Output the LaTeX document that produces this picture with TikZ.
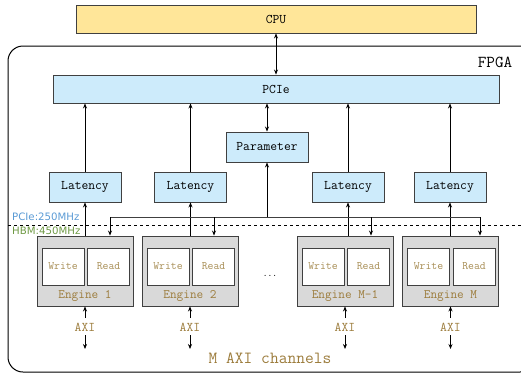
\documentclass[tikz,border=0pt]{standalone}
\usepackage{fontspec}
\newfontfamily\labsans{DejaVu Sans}
\usetikzlibrary{arrows.meta}
\definecolor{edge}{HTML}{404040}
\definecolor{cpufill}{HTML}{FFE699}
\definecolor{bluefill}{HTML}{CDEBFB}
\definecolor{grayfill}{HTML}{D9D9D9}
\definecolor{gold}{HTML}{9C7C3C}
\definecolor{lgold}{HTML}{A88E55}
\definecolor{pcieblue}{HTML}{5B9BD5}
\definecolor{hbmgreen}{HTML}{6F9A45}
\tikzset{
  box/.style={draw=edge, line width=0.9pt, inner sep=0pt, font=\ttfamily\fontsize{13.2}{15}\selectfont},
  cpubox/.style={box, fill=cpufill},
  bluebox/.style={box, fill=bluefill},
  enginebox/.style={draw=edge, line width=0.9pt, fill=grayfill, minimum width=96pt, minimum height=70pt, inner sep=0pt},
  wrbox/.style={draw=edge, line width=0.9pt, fill=white, minimum width=42pt, minimum height=37pt, inner sep=0pt, text=lgold, font=\ttfamily\fontsize{11.4}{13}\selectfont},
  englabel/.style={text=gold, inner sep=0pt, font=\ttfamily\fontsize{12.9}{15}\selectfont},
  axilabel/.style={text=gold, inner sep=0pt, font=\ttfamily\fontsize{13.3}{15}\selectfont},
  arr/.style={-{Stealth[length=5pt,width=4pt]}, line width=0.7pt, black},
  darr/.style={{Stealth[length=5pt,width=4pt]}-{Stealth[length=5pt,width=4pt]}, line width=0.7pt, black},
  bus/.style={line width=0.9pt, edge},
}
\begin{document}
\begin{tikzpicture}[x=1pt,y=-1pt]
\useasboundingbox (0,0) rectangle (521,375);
\clip (0,0) rectangle (521,375);
% FPGA region
\draw[line width=1pt, rounded corners=15pt] (8,46) rectangle (535,372);
\node[inner sep=0pt, font=\ttfamily\fontsize{16.7}{18}\selectfont] (fpga) at (495,62) {FPGA};
% boxes
\node[cpubox, minimum width=400pt, minimum height=28pt] (cpu) at (276,19) {CPU};
\node[bluebox, minimum width=446pt, minimum height=28pt] (pcie) at (276,89) {PCIe};
\node[bluebox, minimum width=82pt, minimum height=30pt] (param) at (267,147) {Parameter};
\node[bluebox, minimum width=72pt, minimum height=30pt] (lat1) at (85,187) {Latency};
\node[bluebox, minimum width=72pt, minimum height=30pt] (lat2) at (190.5,187) {Latency};
\node[bluebox, minimum width=72pt, minimum height=30pt] (lat3) at (348,187) {Latency};
\node[bluebox, minimum width=72pt, minimum height=30pt] (lat4) at (450,187) {Latency};
% clock domain
\draw[dashed, line width=0.8pt] (8,225) -- (521,225);
\node[anchor=west, inner sep=0pt, text=pcieblue, font=\labsans\fontsize{10.2}{11}\selectfont] (pclk) at (12,217) {PCIe:250MHz};
\node[anchor=west, inner sep=0pt, text=hbmgreen, font=\labsans\fontsize{10.2}{11}\selectfont] (hclk) at (12,231) {HBM:450MHz};
% engines
\foreach \n/\cx/\lab in {1/85/Engine 1, 2/190/Engine 2, 3/345/Engine M-1, 4/450.5/Engine M}{
  \node[enginebox] (e\n) at (\cx,271) {};
  \node[wrbox] (w\n) at (\cx-22,266.5) {Write};
  \node[wrbox] (r\n) at (\cx+23.5,266.5) {Read};
  \node[englabel] (el\n) at (\cx,296) {\lab};
  \node[axilabel] (axi\n) at (\cx,327) {AXI};
  \coordinate (au\n) at (\cx,318);
  \coordinate (ad\n) at (\cx,335);
  \coordinate (ae\n) at (\cx,349);
  \draw[arr] (au\n) -- (e\n.south);
  \draw[arr] (ad\n) -- (ae\n);
}
\node[inner sep=0pt, font=\ttfamily\fontsize{9}{10}\selectfont] (dots) at (270,276) {...};
\node[inner sep=0pt, text=gold, font=\ttfamily\fontsize{17}{19}\selectfont] (maxi) at (270,358) {M AXI channels};
% connectors
\draw[darr] (cpu.south) -- (pcie.north);
\draw[darr] (param.north) -- (param.north |- pcie.south);
\foreach \n in {1,2,3,4}{
  \draw[arr] (lat\n.north) -- (lat\n.north |- pcie.south);
}
\draw[arr] (e1.north -| lat1.south) -- (lat1.south);
\draw[arr] (e2.north -| lat2.south) -- (lat2.south);
\draw[arr] (e3.north -| lat3.south) -- (lat3.south);
\draw[arr] (e4.north -| lat4.south) -- (lat4.south);
% bus
\coordinate (d1) at (110,217);
\coordinate (d2) at (214,217);
\coordinate (d3) at (371,217);
\coordinate (d4) at (480,217);
\draw[bus] (d1) -- (d4);
\draw[arr] (param.south |- d1) -- (param.south);
\draw[arr] (d1) -- (d1 |- e1.north);
\draw[arr] (d2) -- (d2 |- e2.north);
\draw[arr] (d3) -- (d3 |- e3.north);
\draw[arr] (d4) -- (d4 |- e4.north);
\end{tikzpicture}
\end{document}
